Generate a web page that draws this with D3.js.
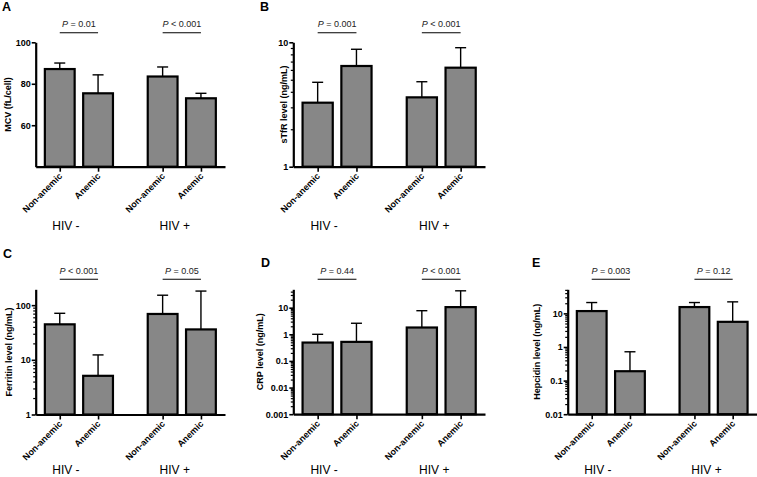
<!DOCTYPE html>
<html><head><meta charset="utf-8">
<script src="https://cdn.jsdelivr.net/npm/d3@7"></script>
<style>body{margin:0;background:#fff;} svg{display:block;font-family:"Liberation Sans",Arial,Helvetica,sans-serif;}</style>
</head><body><svg id="c" width="757" height="477"></svg>
<script>
// ---------- data ----------
const groups = ["HIV -", "HIV +"];
const categories = ["Non-anemic", "Anemic"];
// order: HIV- Non-anemic, HIV- Anemic, HIV+ Non-anemic, HIV+ Anemic
const mcvMean = [87.1, 75.4, 83.5, 73.0];
const mcvUpper = [90.0, 84.3, 88.1, 75.4];
const stfrMean = [3.27, 6.45, 3.61, 6.25];
const stfrUpper = [4.77, 8.79, 4.82, 9.05];
const ferritinMean = [44.6, 5.1, 69, 36];
const ferritinUpper = [71, 12.3, 152, 181];
const crpMean = [0.49, 0.52, 1.8, 10.5];
const crpUpper = [1.0, 2.6, 7.7, 43];
const hepcidinMean = [11.7, 0.19, 15.4, 5.6];
const hepcidinUpper = [21, 0.72, 21, 22];

const mcvTicks = [60, 80, 100];
const stfrTicks = [1, 10];
const ferritinTicks = [1, 10, 100];
const crpTicks = [0.001, 0.01, 0.1, 1, 10];
const hepcidinTicks = [0.01, 0.1, 1, 10];

const mcvP = ["= 0.01", "< 0.001"];
const stfrP = ["= 0.001", "< 0.001"];
const ferritinP = ["< 0.001", "= 0.05"];
const crpP = ["= 0.44", "< 0.001"];
const hepcidinP = ["= 0.003", "= 0.12"];

const yTitles = ["MCV (fL/cell)", "sTfR level (ng/mL)", "Ferritin level (ng/mL)", "CRP level (ng/mL)", "Hepcidin level (ng/mL)"];
const letters = ["A", "B", "C", "D", "E"];

// ---------- layout ----------
const panels = [
  {mean: mcvMean, upper: mcvUpper, ticks: mcvTicks, p: mcvP, log: false, domain: [40, 100],
   left: 35.7, top: 42.3, bottom: 166.7, width: 189.3, titleDx: -24.5, lx: 2, ly: 11, pY: 26.7, lineY: 32.7, gY: 230},
  {mean: stfrMean, upper: stfrUpper, ticks: stfrTicks, p: stfrP, log: true, domain: [1, 10],
   left: 293.3, top: 42.3, bottom: 166.7, width: 191.7, titleDx: -6.5, lx: 260, ly: 11, pY: 26.7, lineY: 32.7, gY: 230},
  {mean: ferritinMean, upper: ferritinUpper, ticks: ferritinTicks, p: ferritinP, log: true, domain: [1, 195],
   left: 35.7, top: 289.3, bottom: 414.5, width: 189.3, titleDx: -24.2, lx: 3, ly: 258, pY: 273.8, lineY: 279.2, gY: 474.3},
  {mean: crpMean, upper: crpUpper, ticks: crpTicks, p: crpP, log: true, domain: [0.001, 49],
   left: 293.3, top: 289.3, bottom: 414.2, width: 191.7, titleDx: -30.5, lx: 261, ly: 266.7, pY: 274, lineY: 279.3, gY: 474.3},
  {mean: hepcidinMean, upper: hepcidinUpper, ticks: hepcidinTicks, p: hepcidinP, log: true, domain: [0.01, 52],
   left: 567.7, top: 289.3, bottom: 414.2, width: 189, titleDx: -27.7, lx: 532, ly: 266.7, pY: 274, lineY: 279.3, gY: 474.3}
];

const svg = d3.select("#c");
const fill = "#878787";

panels.forEach((P, pi) => {
  const g = svg.append("g").attr("transform", `translate(${P.left},0)`);
  const y = (P.log ? d3.scaleLog() : d3.scaleLinear()).domain(P.domain).range([P.bottom, P.top]);
  const x0 = d3.scaleBand().domain(groups).range([0, P.width]).paddingInner(0.3).paddingOuter(0.07);
  const x1 = d3.scaleBand().domain(categories).range([0, x0.bandwidth()]).paddingInner(0.17).paddingOuter(0.025);

  const rows = P.mean.map((m, i) => ({
    group: groups[Math.floor(i / 2)], cat: categories[i % 2], mean: m, upper: P.upper[i]
  }));
  rows.forEach(r => { r.x = x0(r.group) + x1(r.cat); r.cx = r.x + x1.bandwidth() / 2; });

  // error bars
  const eb = g.append("g").attr("stroke", "#000").attr("stroke-width", 1.4);
  rows.forEach(r => {
    eb.append("line").attr("x1", r.cx).attr("x2", r.cx).attr("y1", y(r.mean)).attr("y2", y(r.upper));
    eb.append("line").attr("x1", r.cx - 5.5).attr("x2", r.cx + 5.5).attr("y1", y(r.upper)).attr("y2", y(r.upper));
  });
  // bars
  g.selectAll("rect.bar").data(rows).join("rect").attr("class", "bar")
    .attr("x", d => d.x + 1).attr("width", x1.bandwidth() - 2)
    .attr("y", d => y(d.mean)).attr("height", d => P.bottom - y(d.mean))
    .attr("fill", fill).attr("stroke", "#000").attr("stroke-width", 2.2);

  // y axis
  const ya = g.append("g").call(d3.axisLeft(y).tickValues(P.ticks).tickSize(4).tickSizeOuter(0).tickPadding(1)
      .tickFormat(d => String(d)));
  ya.select(".domain").attr("stroke-width", 2.2);
  ya.selectAll(".tick line").attr("stroke-width", 1.6);
  ya.selectAll("text").attr("font-size", 9).attr("font-weight", "bold").attr("fill", "#000")
    .attr("font-family", "'Liberation Sans',Arial,sans-serif");
  if (P.log) {
    const minor = [];
    const lo = Math.floor(Math.log10(P.domain[0])), hi = Math.ceil(Math.log10(P.domain[1]));
    for (let e = lo; e < hi; e++) for (let k = 2; k <= 9; k++) {
      const v = k * Math.pow(10, e);
      if (v > P.domain[0] && v <= P.domain[1]) minor.push(v);
    }
    const ym = g.append("g").call(d3.axisLeft(y).tickValues(minor).tickSize(2.5).tickFormat(""));
    ym.select(".domain").remove();
    ym.selectAll(".tick line").attr("stroke-width", 1.2);
  }

  // x axis
  const xs = d3.scaleLinear().domain([0, P.width]).range([0, P.width]);
  const xa = g.append("g").attr("transform", `translate(0,${P.bottom})`)
    .call(d3.axisBottom(xs).tickValues(rows.map(r => r.cx)).tickSize(5).tickSizeOuter(0).tickFormat(""));
  xa.select(".domain").attr("stroke-width", 2.2);
  xa.selectAll(".tick line").attr("stroke-width", 1.6);

  // category labels
  rows.forEach(r => {
    g.append("text").attr("transform", `translate(${r.cx + 3},${P.bottom + 10}) rotate(-45)`)
      .attr("text-anchor", "end").attr("font-size", 9).attr("font-weight", "bold").text(r.cat);
  });
  // group labels
  groups.forEach((gr, gi) => {
    g.append("text").attr("x", x0(gr) + x0.bandwidth() / 2 - (gi === 0 ? 13 : 7)).attr("y", P.gY)
      .attr("text-anchor", "middle").attr("font-size", 12).text(gr);
  });
  // p-value brackets
  groups.forEach((gr, gi) => {
    const a = rows[gi * 2].cx, b = rows[gi * 2 + 1].cx;
    g.append("line").attr("x1", a).attr("x2", b).attr("y1", P.lineY).attr("y2", P.lineY)
      .attr("stroke", "#000").attr("stroke-width", 1.1);
    const t = g.append("text").attr("x", (a + b) / 2).attr("y", P.pY).attr("text-anchor", "middle")
      .attr("font-size", 9).attr("fill", "#222");
    t.append("tspan").attr("font-style", "italic").text("P");
    t.append("tspan").text(" " + P.p[gi]);
  });
  // y title
  g.append("text").attr("transform", `translate(${P.titleDx},${(P.top + P.bottom) / 2}) rotate(-90)`)
    .attr("text-anchor", "middle").attr("font-size", 9).attr("font-weight", "bold").text(yTitles[pi]);
  // panel letter
  svg.append("text").attr("x", P.lx).attr("y", P.ly).attr("font-size", 12.5).attr("font-weight", "bold")
    .text(letters[pi]);
});
</script>
</body></html>
